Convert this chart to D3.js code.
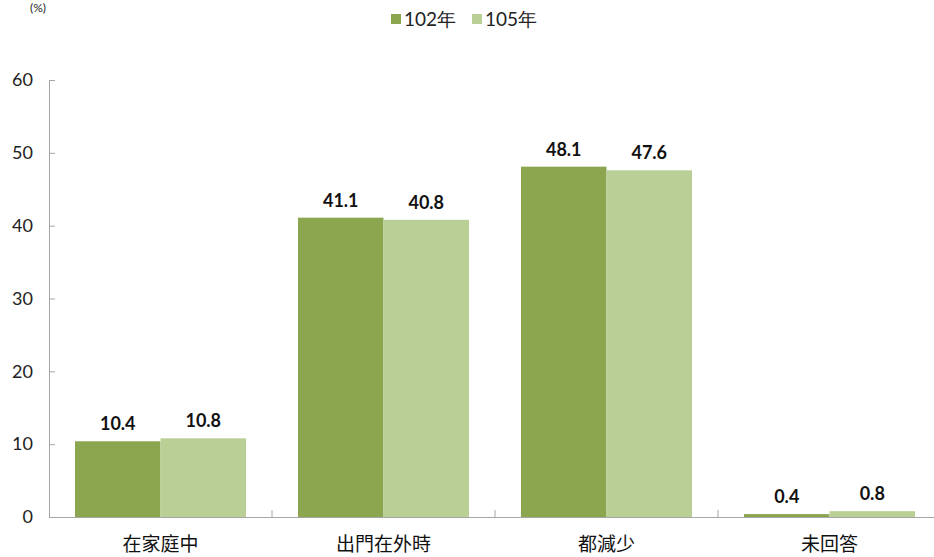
<!DOCTYPE html>
<html><head><meta charset="utf-8">
<script src="https://cdn.jsdelivr.net/npm/d3@7"></script>
<style>body{margin:0;background:#fff}svg{display:block}</style>
</head><body>
<svg id="c" width="934" height="557"></svg>
<script>
const categories = ["在家庭中","出門在外時","都減少","未回答"];
const seriesNames = ["102年","105年"];
const values102 = [10.4, 41.1, 48.1, 0.4];
const values105 = [10.8, 40.8, 47.6, 0.8];
const yTicks = [0,10,20,30,40,50,60];
const colors = ["#8ba64f","#b9cf96"];

(function(){
const svg = d3.select("#c");
const mLeft = 49, mRight = 941, mTop = 80, mBottom = 517;
const numFont = "Lato, 'Open Sans', sans-serif";
const cjkFont = "'Noto Sans CJK TC', 'Noto Sans', sans-serif";

const x = d3.scaleBand().domain(categories).range([mLeft, mRight]).paddingInner(0).paddingOuter(0);
const inner = d3.scaleBand().domain(seriesNames).range([26, x.bandwidth()-26]).padding(0);
const y = d3.scaleLinear().domain([0,60]).range([mBottom, mTop]);

// y axis
const yAxis = svg.append("g").attr("transform",`translate(${mLeft},0)`)
  .call(d3.axisLeft(y).tickValues(yTicks).tickSizeInner(-6).tickSizeOuter(0).tickPadding(16).tickFormat(d3.format("d")));
yAxis.select(".domain").attr("stroke","#a6a6a6");
yAxis.selectAll(".tick line").attr("stroke","#a6a6a6");
yAxis.selectAll(".tick text").attr("font-family",numFont).attr("font-size",18).attr("fill","#222");

// x axis
const xAxis = svg.append("g").attr("transform",`translate(0,${mBottom})`)
  .call(d3.axisBottom(x).tickSize(0).tickPadding(21));
xAxis.select(".domain").attr("stroke","#a6a6a6");
xAxis.selectAll(".tick text").attr("font-family",cjkFont).attr("font-size",19).attr("fill","#111");
// category boundary ticks (inside)
svg.append("g").selectAll("line").data(categories.slice(1)).join("line")
  .attr("x1",d=>x(d)).attr("x2",d=>x(d)).attr("y1",mBottom).attr("y2",mBottom-7)
  .attr("stroke","#a6a6a6");

const series = [values102, values105];
series.forEach((vals,si)=>{
  const g = svg.append("g");
  g.selectAll("rect").data(categories).join("rect")
    .attr("x",(d)=>x(d)+inner(seriesNames[si]))
    .attr("width",inner.bandwidth())
    .attr("y",(d,i)=>y(vals[i]))
    .attr("height",(d,i)=>mBottom-y(vals[i]))
    .attr("fill",colors[si]);
  g.selectAll("text").data(categories).join("text")
    .attr("x",(d)=>x(d)+inner(seriesNames[si])+inner.bandwidth()/2)
    .attr("y",(d,i)=>y(vals[i])-11)
    .attr("text-anchor","middle")
    .attr("font-family",numFont).attr("font-weight","bold").attr("font-size",18).attr("fill","#111")
    .text((d,i)=>vals[i].toFixed(1));
});

// legend
const legend = svg.append("g");
const lx = [391, 472];
seriesNames.forEach((s,i)=>{
  legend.append("rect").attr("x",lx[i]).attr("y",14).attr("width",10).attr("height",10).attr("fill",colors[i]);
  legend.append("text").attr("x",lx[i]+13).attr("y",26)
    .attr("font-family",numFont).attr("font-size",19).attr("fill","#222").text(s);
});

// unit label
svg.append("text").attr("x",46).attr("y",12).attr("text-anchor","end")
  .attr("font-family",numFont).attr("font-size",12).attr("fill","#222").text("(%)");
})();
</script>
</body></html>
